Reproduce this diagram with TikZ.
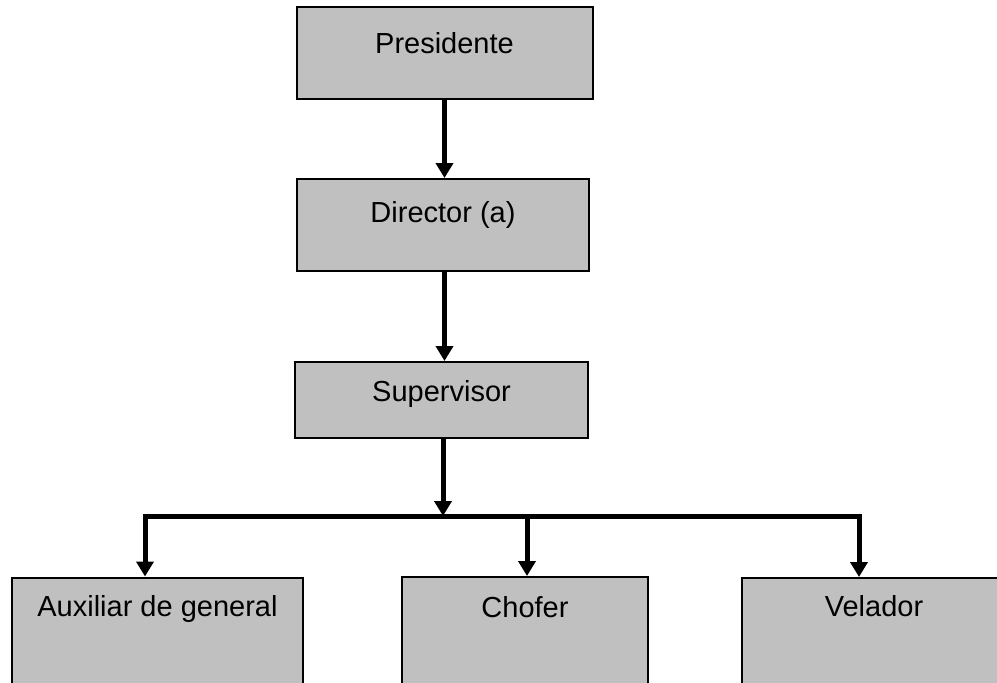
\documentclass[tikz,border=0pt]{standalone}
\usepackage{fontspec}
\setmainfont{Liberation Sans}
\usetikzlibrary{arrows.meta}
\begin{document}
\begin{tikzpicture}[x=1pt,y=-1pt,
  box/.style={draw=black,line width=2pt,fill={rgb,255:red,192;green,192;blue,192},
    inner sep=0pt,font=\fontsize{29}{34}\selectfont,align=center},
  arr/.style={line width=5pt,-{Triangle[width=17pt,length=15pt]}},
  busline/.style={line width=5pt}]
\clip (0,0) rectangle (997,683);
\fill[white] (0,0) rectangle (997,683);
\node[box,minimum width=296pt,text height=46pt,text depth=46pt] (pres) at (444.5,53) {Presidente};
\node[box,minimum width=292pt,text height=43pt,text depth=49pt] (dir) at (443,225) {Director (a)};
\node[box,minimum width=293pt,text height=39pt,text depth=37pt] (sup) at (441.5,400) {Supervisor};
\node[box,minimum width=291pt,text height=39pt,text depth=70pt] (aux) at (157.5,632) {Auxiliar de general};
\node[box,minimum width=246pt,text height=40pt,text depth=70pt] (cho) at (525,632) {Chofer};
\node[box,minimum width=264pt,text height=38pt,text depth=70pt] (vel) at (874,632) {Velador};
\coordinate (busM) at (443,516);
\coordinate (busL) at (145,516);
\coordinate (busC) at (527,516);
\coordinate (busR) at (859,516);
\draw[arr] (pres.south) -- (pres.south |- dir.north);
\draw[arr] (dir.south -| pres.south) -- (pres.south |- sup.north);
\draw[arr] (sup.south -| busM) -- (busM);
\draw[arr] (busR) -- (busL) -- (busL |- aux.north);
\draw[arr] (busL) -- (busR) -- (busR |- vel.north);
\draw[arr] (busC) -- (busC |- cho.north);
\end{tikzpicture}
\end{document}
